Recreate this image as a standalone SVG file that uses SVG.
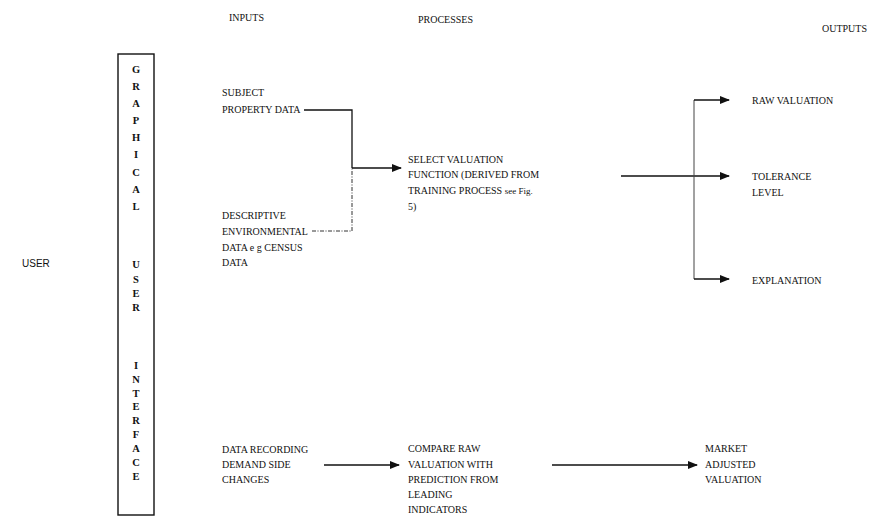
<svg xmlns="http://www.w3.org/2000/svg" width="875" height="522" viewBox="0 0 875 522">
  <defs>
    <marker id="arrow" markerWidth="10" markerHeight="8" refX="9" refY="4" orient="auto" markerUnits="userSpaceOnUse">
      <path d="M0,0 L10,4 L0,8 Z" fill="#111"/>
    </marker>
  </defs>
  <style>
    text { font-family: "Liberation Serif", "Times New Roman", serif; font-size: 10px; fill: #111; }
    .head { font-size: 10px; }
    .user { font-family: "Liberation Sans", Arial, sans-serif; font-size: 10px; }
    .gui { font-size: 10.5px; font-weight: bold; text-anchor: middle; }
    .line { stroke: #111; stroke-width: 1.3; fill: none; }
    .dotted { stroke: #333; stroke-width: 1; fill: none; stroke-dasharray: 4 1.5 1 1.5; }
    .thin { stroke: #444; stroke-width: 1; fill: none; }
    .box { stroke: #111; stroke-width: 1.4; fill: none; }
  </style>
  <rect width="875" height="522" fill="#fff"/>

  <!-- column headings -->
  <g id="headings">
    <text class="head" x="229" y="21">INPUTS</text>
    <text class="head" x="418" y="23">PROCESSES</text>
    <text class="head" x="822" y="32">OUTPUTS</text>
  </g>

  <g id="user">
    <text class="user" x="22" y="267">USER</text>
  </g>

  <!-- graphical user interface column -->
  <g id="gui">
    <rect class="box" x="118" y="54" width="36" height="461"/>
    <text class="gui" x="136" y="73">G</text>
    <text class="gui" x="136" y="90">R</text>
    <text class="gui" x="136" y="107">A</text>
    <text class="gui" x="136" y="124">P</text>
    <text class="gui" x="136" y="141">H</text>
    <text class="gui" x="136" y="158">I</text>
    <text class="gui" x="136" y="176">C</text>
    <text class="gui" x="136" y="193">A</text>
    <text class="gui" x="136" y="210">L</text>
    <text class="gui" x="136" y="268">U</text>
    <text class="gui" x="136" y="283">S</text>
    <text class="gui" x="136" y="297">E</text>
    <text class="gui" x="136" y="311">R</text>
    <text class="gui" x="136" y="369">I</text>
    <text class="gui" x="136" y="383">N</text>
    <text class="gui" x="136" y="397">T</text>
    <text class="gui" x="136" y="410">E</text>
    <text class="gui" x="136" y="424">R</text>
    <text class="gui" x="136" y="438">F</text>
    <text class="gui" x="136" y="452">A</text>
    <text class="gui" x="136" y="466">C</text>
    <text class="gui" x="136" y="480">E</text>
  </g>

  <!-- inputs -->
  <g id="subject-property">
    <text x="222" y="96">SUBJECT</text>
    <text x="222" y="113">PROPERTY DATA</text>
  </g>
  <g id="descriptive-data">
    <text x="222" y="219">DESCRIPTIVE</text>
    <text x="222" y="235">ENVIRONMENTAL</text>
    <text x="222" y="251">DATA e g CENSUS</text>
    <text x="222" y="266">DATA</text>
  </g>
  <g id="demand-data">
    <text x="222" y="453">DATA RECORDING</text>
    <text x="222" y="468">DEMAND SIDE</text>
    <text x="222" y="483">CHANGES</text>
  </g>

  <!-- processes -->
  <g id="select-function">
    <text x="408" y="163">SELECT VALUATION</text>
    <text x="408" y="178">FUNCTION (DERIVED FROM</text>
    <text x="408" y="194">TRAINING PROCESS  <tspan font-size="9">see Fig.</tspan></text>
    <text x="408" y="210">5)</text>
  </g>
  <g id="compare">
    <text x="408" y="452">COMPARE RAW</text>
    <text x="408" y="468">VALUATION WITH</text>
    <text x="408" y="483">PREDICTION FROM</text>
    <text x="408" y="498">LEADING</text>
    <text x="408" y="513">INDICATORS</text>
  </g>

  <!-- outputs -->
  <g id="raw-valuation">
    <text x="752" y="104">RAW VALUATION</text>
  </g>
  <g id="tolerance">
    <text x="752" y="180">TOLERANCE</text>
    <text x="752" y="196">LEVEL</text>
  </g>
  <g id="explanation">
    <text x="752" y="284">EXPLANATION</text>
  </g>
  <g id="market-adjusted">
    <text x="705" y="452">MARKET</text>
    <text x="705" y="468">ADJUSTED</text>
    <text x="705" y="483">VALUATION</text>
  </g>

  <!-- connectors -->
  <g id="connectors">
    <polyline class="line" points="304,110 352,110 352,168"/>
    <polyline class="dotted" points="312,231 352,231 352,168"/>
    <line class="line" x1="352" y1="168" x2="401" y2="168" marker-end="url(#arrow)"/>
    <line class="line" x1="621" y1="176" x2="729" y2="176" marker-end="url(#arrow)"/>
    <line class="thin" x1="694" y1="100" x2="694" y2="279"/>
    <line class="line" x1="694" y1="100" x2="729" y2="100" marker-end="url(#arrow)"/>
    <line class="line" x1="694" y1="279" x2="729" y2="279" marker-end="url(#arrow)"/>
    <line class="line" x1="324" y1="465" x2="399" y2="465" marker-end="url(#arrow)"/>
    <line class="line" x1="552" y1="465" x2="697" y2="465" marker-end="url(#arrow)"/>
  </g>
</svg>
